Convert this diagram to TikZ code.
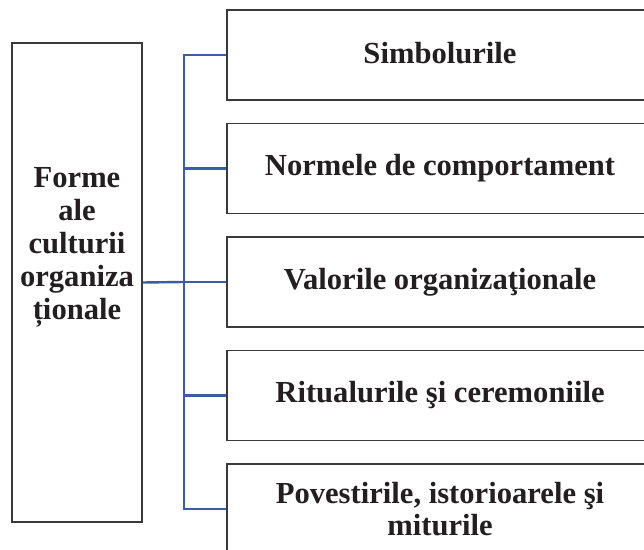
\documentclass[tikz,border=0pt]{standalone}
\usepackage{fontspec}
\setmainfont{Liberation Serif}
\definecolor{busblue}{HTML}{3C5DA5}
\definecolor{ink}{HTML}{231F20}
\definecolor{frame}{HTML}{3A3A3A}
\begin{document}
\begin{tikzpicture}[x=0.5pt,y=-0.5pt,
  box/.style={draw=frame,line width=0.7pt,rectangle,inner sep=0pt},
  rbox/.style={box,minimum width=213pt,minimum height=45pt,text=ink,
    font=\fontsize{15.3}{16.3}\selectfont\bfseries,align=center},
  bus/.style={draw=busblue,line width=1.2pt}]
\clip (0,0) rectangle (644,550);
\fill[white] (0,0) rectangle (644,550);
\node[box,minimum width=65pt,minimum height=239.5pt] (L) at (77,282.5) {};
\node[text=ink,font=\fontsize{15.3}{16.5}\selectfont\bfseries,align=center,inner sep=0pt] (Lt) at (77,247) {Forme\\ale\\culturii\\organiza\\ționale};
\node[rbox] (R1) at (440,55) {\raisebox{2pt}{Simbolurile}};
\node[rbox] (R2) at (440,168.5) {Normele de comportament};
\node[rbox] (R3) at (440,282) {Valorile organizaţionale};
\node[rbox] (R4) at (440,395.5) {Ritualurile şi ceremoniile};
\node[rbox] (R5) at (440,509) {Povestirile, istorioarele şi\\miturile};
\coordinate (B) at (184,282);
\draw[bus] (L.east) -- (B);
\draw[bus] (R1.west) -- (R1.west -| B) -- (R5.west -| B) -- (R5.west);
\draw[bus] (R2.west -| B) -- (R2.west);
\draw[bus] (R3.west -| B) -- (R3.west);
\draw[bus] (R4.west -| B) -- (R4.west);
\end{tikzpicture}
\end{document}
